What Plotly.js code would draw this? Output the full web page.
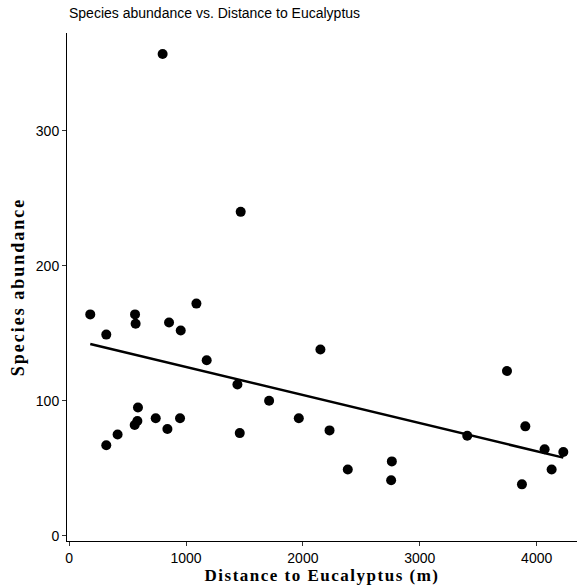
<!DOCTYPE html>
<html>
<head>
<meta charset="utf-8">
<script src="https://cdn.plot.ly/plotly-3.0.1.min.js"></script>
<style>
html,body{margin:0;padding:0;background:#fff;}
#chart{width:577px;height:585px;}
#chart .xtitle{letter-spacing:1.5px;}
#chart .ytitle{letter-spacing:2px;}
</style>
</head>
<body>
<div id="chart"></div>
<script>
var distance = [181, 318, 318, 415, 564, 569, 589, 561, 584, 741, 855, 841, 955, 949, 1089, 1177, 1440, 1460, 1711, 1965, 2150, 2228, 2384, 2761, 2755, 3406, 3746, 3903, 3874, 4068, 4228, 4128, 800, 1468];
var abundance = [164, 149, 67, 75, 164, 157, 95, 82, 85, 87, 158, 79, 152, 87, 172, 130, 112, 76, 100, 87, 138, 78, 49, 55, 41, 74, 122, 81, 38, 64, 62, 49, 357, 240];
var xTicks = [0, 1000, 2000, 3000, 4000];
var yTicks = [0, 100, 200, 300];

// least squares fit
var n = distance.length, sx = 0, sy = 0, sxx = 0, sxy = 0;
for (var i = 0; i < n; i++) { sx += distance[i]; sy += abundance[i]; sxx += distance[i]*distance[i]; sxy += distance[i]*abundance[i]; }
var slope = (n*sxy - sx*sy) / (n*sxx - sx*sx);
var intercept = (sy - slope*sx) / n;
var xmin = Math.min.apply(null, distance), xmax = Math.max.apply(null, distance);

var traces = [
  {x: distance, y: abundance, mode: 'markers', type: 'scatter',
   marker: {color: '#000', size: 10}, hoverinfo: 'x+y'},
  {x: [xmin, xmax], y: [intercept + slope*xmin, intercept + slope*xmax], mode: 'lines', type: 'scatter',
   line: {color: '#000', width: 2.5}}
];

var layout = {
  width: 577, height: 585,
  margin: {l: 67, r: 0, t: 33, b: 44, pad: 0},
  paper_bgcolor: '#fff', plot_bgcolor: '#fff',
  showlegend: false,
  title: {text: 'Species abundance vs. Distance to Eucalyptus', xref: 'container', x: 69/577, xanchor: 'left',
          yref: 'container', y: 1 - 13/585, yanchor: 'middle',
          font: {family: 'Liberation Sans, Arial, sans-serif', size: 14, color: '#000'}},
  xaxis: {range: [-18, 4345], tickvals: xTicks, ticktext: xTicks.map(String),
          showgrid: false, zeroline: false, showline: true, linecolor: '#000', linewidth: 1,
          ticks: 'outside', ticklen: 4, tickcolor: '#333', tickwidth: 1,
          tickfont: {family: 'Liberation Sans, Arial, sans-serif', size: 14, color: '#000'},
          title: {text: 'Distance to Eucalyptus (m)', standoff: 4,
                  font: {family: 'Liberation Serif, Times New Roman, serif', size: 17, color: '#000', weight: 'bold'}}},
  yaxis: {range: [-4, 372.6], tickvals: yTicks, ticktext: yTicks.map(String),
          showgrid: false, zeroline: false, showline: true, linecolor: '#000', linewidth: 1,
          ticks: 'outside', ticklen: 4, tickcolor: '#333', tickwidth: 1,
          tickfont: {family: 'Liberation Sans, Arial, sans-serif', size: 14, color: '#000'},
          title: {text: 'Species abundance', standoff: 6,
                  font: {family: 'Liberation Serif, Times New Roman, serif', size: 18, color: '#000', weight: 'bold'}}}
};
Plotly.newPlot('chart', traces, layout, {displayModeBar: false, staticPlot: true});
</script>
</body>
</html>
